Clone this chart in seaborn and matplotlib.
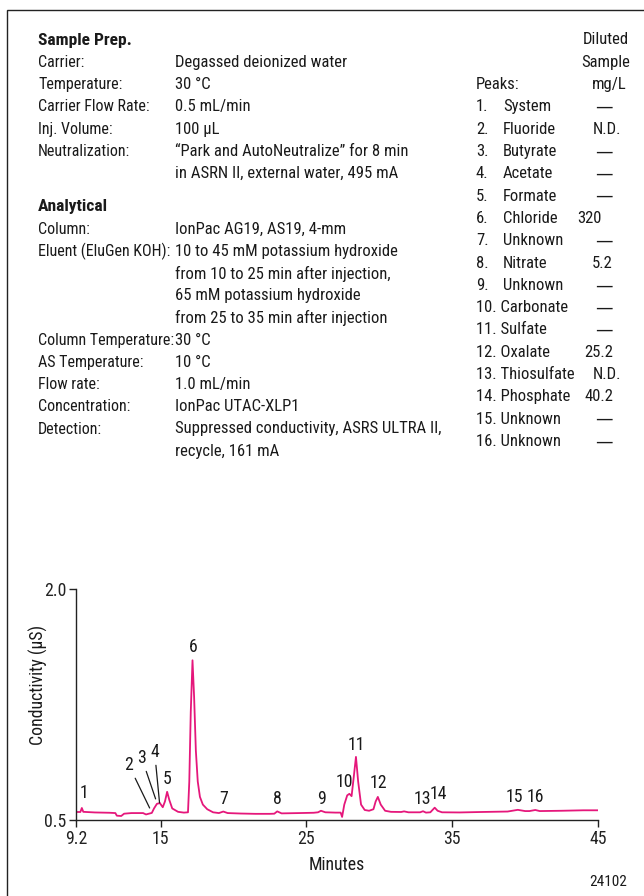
import matplotlib
matplotlib.use("Agg")
import matplotlib.pyplot as plt
import matplotlib.font_manager as fm
import seaborn as sns
from matplotlib.patches import Rectangle

# ---------- data ----------
times = [9.2, 9.5, 9.6, 9.7, 10.5, 11.5, 11.9, 12.0, 12.3, 12.5, 13.0, 13.8, 14.0, 14.2,
         14.4, 14.55, 14.75, 14.95, 15.15, 15.3, 15.45, 15.6, 15.8, 16.2, 16.6, 16.88,
         16.97, 17.07, 17.19, 17.3, 17.42, 17.55, 17.7, 17.9, 18.2, 18.6, 19.0, 19.3, 19.6,
         20.5, 21.5, 22.5, 22.8, 23.0, 23.3, 24.5, 25.5, 25.8, 26.0, 26.3, 27.0, 27.35,
         27.45, 27.6, 27.8, 27.95, 28.1, 28.25, 28.4, 28.55, 28.75, 29.0, 29.3, 29.6, 29.75,
         29.9, 30.1, 30.4, 30.8, 31.5, 31.7, 32.0, 32.8, 33.0, 33.2, 33.5, 33.8, 34.0, 34.3,
         35.5, 37.0, 38.8, 39.5, 40.0, 40.3, 40.7, 41.0, 42.5, 44.0, 45.0]
signal = [0.552, 0.552, 0.578, 0.553, 0.549, 0.547, 0.545, 0.528, 0.526, 0.541, 0.545,
          0.545, 0.536, 0.541, 0.546, 0.575, 0.605, 0.61, 0.583, 0.62, 0.683, 0.63, 0.575,
          0.553, 0.548, 0.55, 0.75, 1.2, 1.537, 1.3, 0.95, 0.75, 0.65, 0.6, 0.57, 0.55,
          0.545, 0.555, 0.545, 0.542, 0.54, 0.54, 0.541, 0.556, 0.543, 0.545, 0.547, 0.55,
          0.56, 0.55, 0.548, 0.548, 0.52, 0.6, 0.66, 0.67, 0.655, 0.78, 0.91, 0.75, 0.6,
          0.565, 0.56, 0.57, 0.62, 0.65, 0.6, 0.56, 0.553, 0.552, 0.556, 0.55, 0.55, 0.557,
          0.548, 0.55, 0.58, 0.56, 0.55, 0.549, 0.552, 0.555, 0.566, 0.558, 0.558, 0.565,
          0.558, 0.56, 0.563, 0.563]

peak_ids = [str(i) for i in range(1, 17)]
label_t = [9.73, 12.81, 13.70, 14.59, 15.48, 17.26, 19.32, 23.01, 26.03, 27.6, 28.42,
           29.93, 32.95, 34.04, 39.25, 40.68]
label_v = [0.676, 0.859, 0.904, 0.944, 0.767, 1.622, 0.637, 0.637, 0.637, 0.748, 0.989,
           0.741, 0.637, 0.67, 0.65, 0.65]
# peaks 2-4 get leader lines down to the trace
leader_ids = ['2', '3', '4']
leader_t = [14.25, 14.66, 14.93]
leader_v = [0.578, 0.637, 0.611]

x_ticks = [9.2, 15, 25, 35, 45]
x_ticklabels = ['9.2', '15', '25', '35', '45']
y_ticks = [0.5, 2.0]
y_ticklabels = ['0.5', '2.0']

prep_labels = ['Carrier:', 'Temperature:', 'Carrier Flow Rate:', 'Inj. Volume:',
               'Neutralization:', '']
prep_values = ['Degassed deionized water', '30 \u00b0C', '0.5 mL/min', '100 \u00b5L',
               '\u201cPark and AutoNeutralize\u201d for 8 min',
               'in ASRN II, external water, 495 mA']
anal_labels = ['Column:', 'Eluent (EluGen KOH):', '', '', '', 'Column Temperature:',
               'AS Temperature:', 'Flow rate:', 'Concentration:', 'Detection:', '']
anal_values = ['IonPac AG19, AS19, 4-mm', '10 to 45 mM potassium hydroxide',
               'from 10 to 25 min after injection,', '65 mM potassium hydroxide',
               'from 25 to 35 min after injection', '30 \u00b0C', '10 \u00b0C', '1.0 mL/min',
               'IonPac UTAC-XLP1', 'Suppressed conductivity, ASRS ULTRA II,',
               'recycle, 161 mA']
peak_names = ['System', 'Fluoride', 'Butyrate', 'Acetate', 'Formate', 'Chloride',
              'Unknown', 'Nitrate', 'Unknown', 'Carbonate', 'Sulfate', 'Oxalate',
              'Thiosulfate', 'Phosphate', 'Unknown', 'Unknown']
peak_conc = ['\u2014', 'N.D.', '\u2014', '\u2014', '\u2014', '320', '\u2014', '5.2',
             '\u2014', '\u2014', '\u2014', '25.2', 'N.D.', '40.2', '\u2014', '\u2014']

# ---------- style ----------
sns.set_theme(style="ticks")
# the original uses a condensed Helvetica; take the narrowest family available
candidates = ['Liberation Sans Narrow', 'DejaVu Sans Condensed', 'Roboto Condensed',
              'Arial Narrow', 'Roboto', 'Liberation Sans']
available = {f.name for f in fm.fontManager.ttflist}
chosen = next((f for f in candidates if f in available), 'DejaVu Sans')
plt.rcParams['font.family'] = [chosen, 'DejaVu Sans']
plt.rcParams['axes.unicode_minus'] = False
TRACE = '#E5177B'
INK = '#1a1a1a'

W, H = 644, 896
fig = plt.figure(figsize=(W / 100, H / 100), dpi=100)

# size the body text so that a reference line is as wide as in the original (~180 px)
renderer = fig.canvas.get_renderer()
probe = fig.text(0, 0, 'Degassed deionized water', fontsize=10)
FS = min(12.0, 10 * 180 / probe.get_window_extent(renderer).width)
probe.remove()


def ftext(x, y, s, **kw):
    # place text by pixel position in the figure
    kw.setdefault('fontsize', FS)
    kw.setdefault('va', 'center')
    fig.text(x / W, 1 - y / H, s, color=INK, **kw)


def dash(x, y):
    # the condensed em dash is too short, borrow the wider DejaVu one
    ftext(x, y, '\u2014', ha='center', family='DejaVu Sans', fontsize=FS * 1.05)


# outer frame (only left and top edges are visible)
fig.patches.append(Rectangle((7 / W, -0.1), 1.2, 1 - 10 / H + 0.1, transform=fig.transFigure,
                             fill=False, edgecolor='#222222', linewidth=1.0))

# ---------- text block ----------
row = 22.3
VX = 175
ftext(38, 40, 'Sample Prep.', fontweight='bold', fontsize=FS * 1.05)
for i, (lab, val) in enumerate(zip(prep_labels, prep_values)):
    y = 40 + row * (i + 1)
    ftext(38, y, lab, fontsize=FS * 0.96)
    ftext(VX, y, val)

ftext(38, 207, 'Analytical', fontweight='bold', fontsize=FS * 1.05)
for i, (lab, val) in enumerate(zip(anal_labels, anal_values)):
    y = 207 + 22.2 * (i + 1)
    ftext(38, y, lab, fontsize=FS * 0.96)
    ftext(VX, y, val)

ftext(629, 40, 'Diluted', ha='right')
ftext(630, 40 + row, 'Sample', ha='right')
ftext(476, 40 + 2 * row, 'Peaks:')
ftext(627, 40 + 2 * row, 'mg/L', ha='right')
for i, (name, conc) in enumerate(zip(peak_names, peak_conc)):
    y = 40 + row * (i + 3)
    num = f'{i + 1}.'
    if i < 9:
        ftext(476, y, num)
        ftext(503, y, name)
    else:
        ftext(476, y, f'{num} {name}')
    if conc == 'N.D.':
        ftext(607, y, conc, ha='center')
    elif conc == '320':
        ftext(602, y, conc, ha='right')
    elif conc == '\u2014':
        dash(604, y)
    else:
        ftext(613, y, conc, ha='right')

# ---------- chromatogram ----------
ax = fig.add_axes([76 / W, 1 - 820 / H, (598 - 76) / W, (820 - 589) / H])
sns.lineplot(x=times, y=signal, ax=ax, color=TRACE, linewidth=1.3,
             estimator=None, sort=False)
ax.set_xlim(9.2, 45)
ax.set_ylim(0.5, 2.0)
ax.set_xticks(x_ticks)
ax.set_xticklabels(x_ticklabels)
ax.set_yticks(y_ticks)
ax.set_yticklabels(y_ticklabels)
ax.tick_params(axis='both', direction='out', length=5, width=1.0, labelsize=FS + 0.8,
               colors='#222222', pad=2)
sns.despine(ax=ax)
for side in ['left', 'bottom']:
    ax.spines[side].set_color('#222222')
    ax.spines[side].set_linewidth(1.0)
ax.patch.set_alpha(0)

for pid, t, v in zip(peak_ids, label_t, label_v):
    if pid in leader_ids:
        k = leader_ids.index(pid)
        ax.annotate(pid, xy=(leader_t[k], leader_v[k]), xytext=(t, v),
                    ha='center', va='center', fontsize=FS + 0.8, color=INK,
                    arrowprops=dict(arrowstyle='-', color=INK, lw=0.9,
                                    shrinkA=1, shrinkB=0))
    else:
        ax.text(t, v, pid, ha='center', va='center', fontsize=FS + 0.8, color=INK)

ax.set_xlabel('Minutes', fontsize=FS + 0.8, color=INK, labelpad=6)
ax.set_ylabel('Conductivity (\u00b5S)', fontsize=FS + 0.8, color=INK)
ax.yaxis.set_label_coords(-0.054, 0.584)
ftext(627, 882, '24102', ha='right', fontsize=FS - 1)

fig.savefig('out.png', dpi=100)
